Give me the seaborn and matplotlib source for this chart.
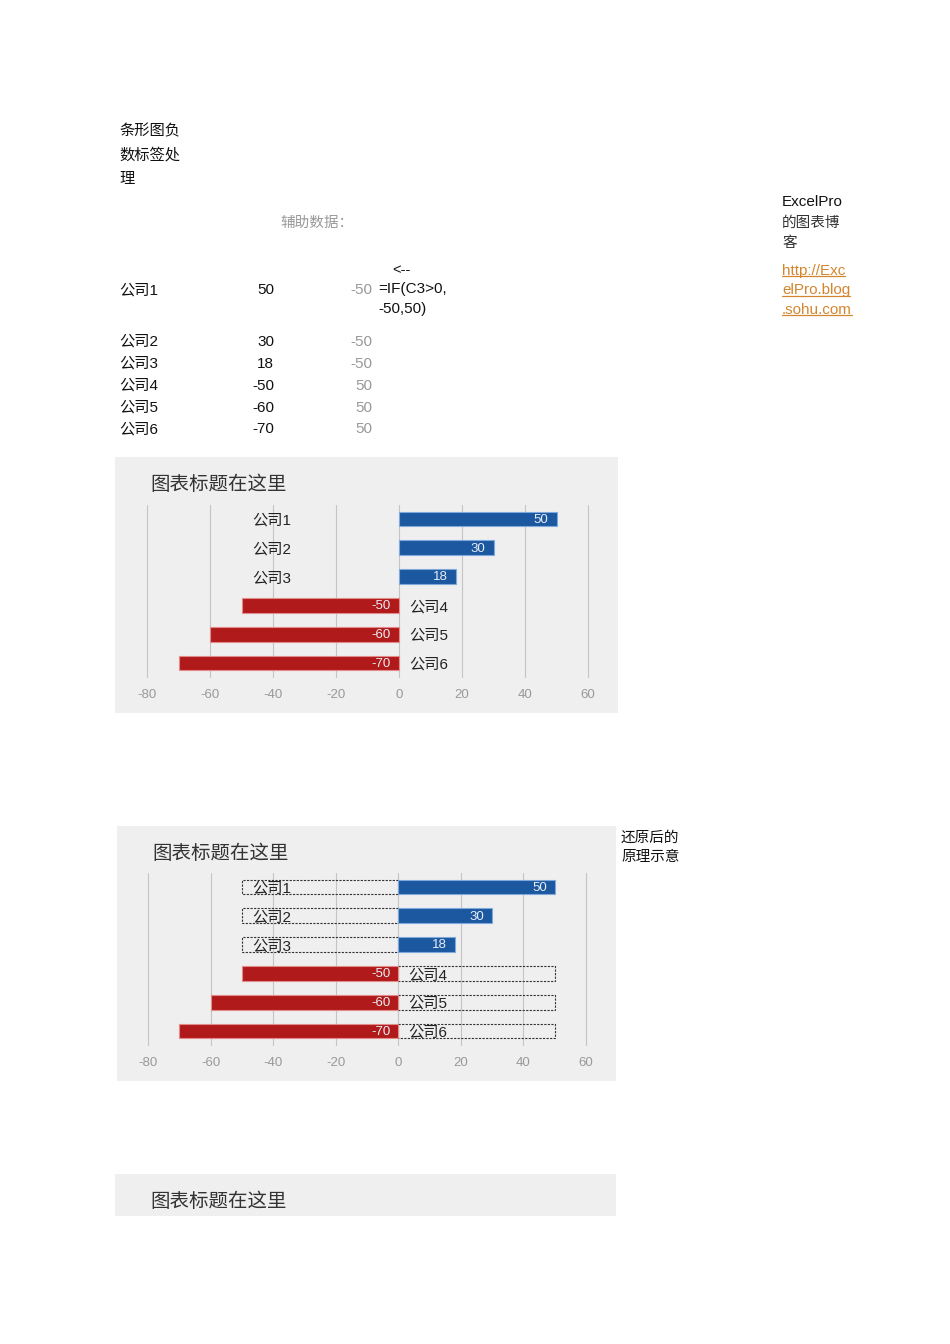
import numpy as np
import pandas as pd
import seaborn as sns
import matplotlib.pyplot as plt
from matplotlib.patches import Rectangle
from matplotlib.lines import Line2D

companies = ['公司1', '公司2', '公司3', '公司4', '公司5', '公司6']
values = [50, 30, 18, -50, -60, -70]
helper = [-50, -50, -50, 50, 50, 50]
ticks = [-80, -60, -40, -20, 0, 20, 40, 60]

sns.set_style('white')
plt.rcParams['font.family'] = ['Liberation Sans', 'Noto Sans CJK SC']
plt.rcParams['axes.unicode_minus'] = False

W, H = 950, 1344
fig = plt.figure(figsize=(9.5, 13.44), dpi=100)


def fx(x):
    return x / W


def fy(y):
    return 1 - y / H


def txt(x, y, s, **kw):
    kw.setdefault('fontsize', 11)
    kw.setdefault('va', 'center')
    kw.setdefault('color', '#111111')
    return fig.text(fx(x), fy(y + 1.5), s, **kw)


# sheet text above the charts
for i, s in enumerate(['条形图负', '数标签处', '理']):
    txt(119, 130 + i * 23.5, s)
txt(280, 221, '辅助数据：', color='#999999', fontsize=10.5)

rows_y = [289, 340, 362, 384, 406, 428]
for name, v, h, y in zip(companies, values, helper, rows_y):
    txt(119, y, name)
    txt(274, y, str(v), ha='right')
    txt(372, y, str(h), ha='right', color='#999999')
txt(392, 269, '<--', fontsize=10.5)
txt(378, 288, '=IF(C3>0,', fontsize=11)
txt(378, 307, '-50,50)', fontsize=11)

txt(782, 201, 'ExcelPro', fontsize=11)
txt(782, 221, '的图表博', fontsize=10.5, color='#333333')
txt(782, 241, '客', fontsize=10.5, color='#333333')
links = []
for i, s in enumerate(['http://Exc', 'elPro.blog', '.sohu.com']):
    links.append(txt(782, 269 + i * 19.5, s, fontsize=11, color='#d4862f'))

txt(621, 836, '还原后的', fontsize=10.5)
txt(621, 856, '原理示意', fontsize=10.5)


def bar_chart(box, plot, dashed):
    x0, y0, x1, y1 = box
    fig.patches.append(Rectangle((fx(x0), fy(y1)), (x1 - x0) / W, (y1 - y0) / H,
                                 transform=fig.transFigure, facecolor='#efefef',
                                 edgecolor='none', zorder=-10))
    fig.text(fx(x0 + 35), fy(y0 + 27.5), '图表标题在这里', fontsize=14,
             color='#333333', va='center')
    if plot is None:
        return
    l, t, r, b = plot
    ax = fig.add_axes([fx(l), fy(b), (r - l) / W, (b - t) / H])
    ax.set_zorder(5)
    ax.set_facecolor('none')
    df = pd.DataFrame({'公司': companies, '数值': values, '辅助': helper})

    # helper series (hidden in chart 1, dashed outline in chart 2)
    sns.barplot(data=df, x='辅助', y='公司', orient='h', width=0.52,
                color='white', ax=ax)
    for p in ax.patches:
        if dashed:
            p.set(facecolor='none', edgecolor='#333333',
                  linestyle=(0, (2, 1.2)), linewidth=0.8)
        else:
            p.set_visible(False)
    n = len(ax.patches)

    colors = ['#1c58a0' if v > 0 else '#b01a1a' for v in values]
    edges = ['#7fa8dd' if v > 0 else '#e58a8a' for v in values]
    sns.barplot(data=df, x='数值', y='公司', orient='h', hue='公司',
                palette=colors, saturation=1, width=0.52, legend=False, ax=ax)
    for p, ec in zip(ax.patches[n:], edges):
        p.set_edgecolor(ec)
        p.set_linewidth(0.8)

    for i, (v, h, name) in enumerate(zip(values, helper, companies)):
        ax.text(max(v, 0) - 2.5, i + 0.03, str(v), ha='right', va='center',
                color='#e8edf5', fontsize=9.5)
        ax.text(min(h, 0) + 3.3, i + 0.06, name, ha='left', va='center',
                color='#222222', fontsize=11)

    ax.set_xlim(-80, 60)
    ax.set_ylim(5.5, -0.5)
    ax.set_xticks(ticks)
    ax.set_yticks([])
    ax.set_xlabel('')
    ax.set_ylabel('')
    ax.grid(axis='x', color='#c4c4c4', linewidth=0.8)
    ax.grid(axis='y', visible=False)
    for gl in ax.get_xgridlines():
        gl.set_clip_on(False)
    ax.set_axisbelow(True)
    sns.despine(ax=ax, left=True, bottom=True)
    ax.tick_params(axis='x', length=0, pad=8, labelcolor='#999999', labelsize=9.5)


bar_chart((115, 457, 618, 713), (147, 504.6, 588, 677.4), dashed=False)
bar_chart((117, 826, 616, 1081), (148, 872.6, 586, 1045.4), dashed=True)
bar_chart((115, 1174, 616, 1216), None, dashed=False)

# underline the link text
fig.canvas.draw()
renderer = fig.canvas.get_renderer()
for t in links:
    bb = t.get_window_extent(renderer).transformed(fig.transFigure.inverted())
    fig.lines.append(Line2D([bb.x0, bb.x1], [bb.y0 + 0.0008, bb.y0 + 0.0008],
                            transform=fig.transFigure, color='#d4862f', lw=0.9))

fig.savefig('out.png', dpi=100)
